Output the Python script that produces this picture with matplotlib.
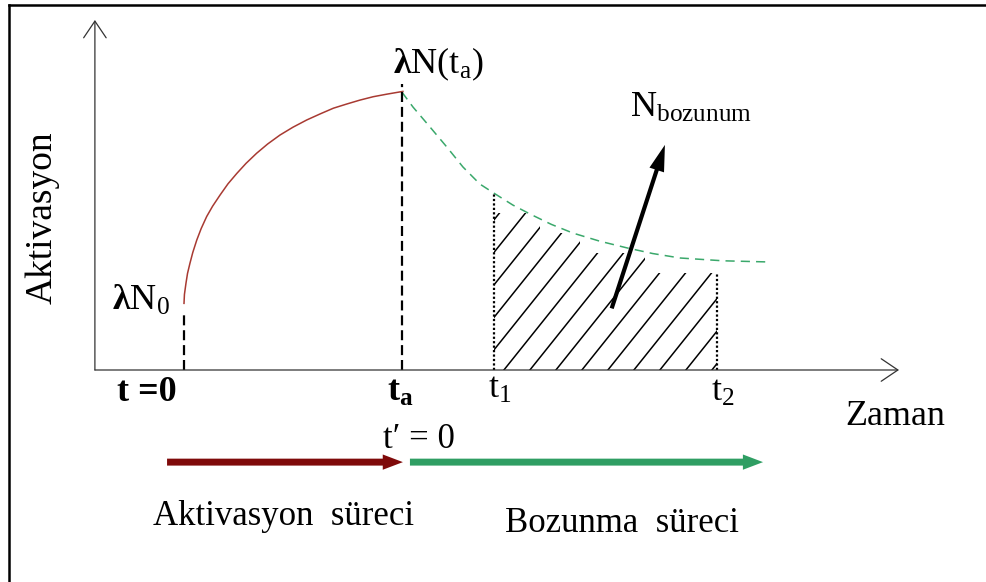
import numpy as np
import matplotlib
matplotlib.use('Agg')
import matplotlib.pyplot as plt
from matplotlib.patches import Polygon, FancyArrowPatch
from matplotlib.lines import Line2D

plt.rcParams['font.family'] = ['Liberation Serif', 'DejaVu Serif']
plt.rcParams['mathtext.fontset'] = 'custom'
plt.rcParams['mathtext.rm'] = 'Liberation Serif'
plt.rcParams['mathtext.it'] = 'Liberation Serif:italic'
plt.rcParams['mathtext.bf'] = 'Liberation Serif:bold'
plt.rcParams['mathtext.default'] = 'rm'

# ---- values (time units / activation units) ----
t_rise = [0.0, 0.02, 0.09, 0.16, 0.27, 0.40, 0.58, 0.78, 1.03, 1.30, 1.64, 2.00,
          2.40, 2.82, 3.30, 3.80, 4.36, 4.95, 5.58, 6.20, 6.79, 7.40, 8.00, 8.60,
          9.21, 9.95]
a_rise = [2.38, 2.70, 3.10, 3.45, 3.81, 4.20, 4.64, 5.05, 5.48, 5.85, 6.25, 6.65,
          7.02, 7.38, 7.74, 8.07, 8.39, 8.67, 8.93, 9.15, 9.35, 9.50, 9.64, 9.76,
          9.85, 9.95]

t_decay = [9.90, 10.41, 11.18, 11.95, 12.68, 13.45, 14.14, 14.95, 15.73, 16.70,
           17.68, 18.90, 20.14, 21.30, 22.55, 24.50, 26.50]
a_decay = [9.93, 9.39, 8.68, 7.96, 7.25, 6.64, 6.29, 5.89, 5.57, 5.20,
           4.89, 4.60, 4.36, 4.16, 4.00, 3.90, 3.86]

t_zero, t_a, t_1, t_2 = 0.0, 9.90, 14.09, 24.24
a_zero_mark, a_ta_mark, a_t1_mark, a_t2_mark = 2.08, 10.2, 6.29, 3.48

# hatched area N_bozunum (stepped top edge)
hatch_t = [t_1, t_1, 16.18, 16.18, 18.00, 18.00, 20.95, 20.95, t_2, t_2]
hatch_a = [0.0, 5.61, 5.61, 4.89, 4.89, 4.18, 4.18, 3.46, 3.46, 0.0]

# axes extents
axis_t_left, axis_t_right, axis_a_top = -4.05, 32.5, 12.5

# arrow pointing at the area
nboz_tail = (19.44, 2.20)
nboz_tip = (21.86, 8.04)

# process arrows under the axis
stage_a = -3.29
act_stage = (-0.77, 9.95)
dec_stage = (10.27, 26.32)

RED_CURVE = '#a83a32'
GREEN_CURVE = '#3aa86b'
RED_ARROW = '#7f0a0a'
GREEN_ARROW = '#2f9e63'

W, H = 987, 582
PX_T, PX_A = 22.0, 28.0
X0, Y0 = 184, 370

fig = plt.figure(figsize=(W / 100, H / 100), dpi=100)
ax = fig.add_axes([0, 0, 1, 1])
ax.set_xlim(-X0 / PX_T, (W - X0) / PX_T)
ax.set_ylim(-(H - Y0) / PX_A, Y0 / PX_A)
ax.axis('off')

# frame (cut off on right and bottom)
fig.add_artist(Line2D([9 / W, 1], [1 - 5 / H, 1 - 5 / H], color='black', lw=1.8,
                      transform=fig.transFigure, solid_capstyle='projecting'))
fig.add_artist(Line2D([9 / W, 9 / W], [0, 1 - 5 / H], color='black', lw=1.8,
                      transform=fig.transFigure, solid_capstyle='projecting'))

# axes with open arrow heads
ax.annotate('', xy=(axis_t_left, axis_a_top), xytext=(axis_t_left, 0),
            arrowprops=dict(arrowstyle='->, head_length=0.4, head_width=0.27',
                            mutation_scale=30, lw=0.9, color='#333333',
                            shrinkA=0, shrinkB=0))
ax.annotate('', xy=(axis_t_right, 0), xytext=(axis_t_left, 0),
            arrowprops=dict(arrowstyle='->, head_length=0.4, head_width=0.27',
                            mutation_scale=30, lw=0.9, color='#333333',
                            shrinkA=0, shrinkB=0))

# curves
ax.plot(t_rise, a_rise, color=RED_CURVE, lw=1.1, solid_joinstyle='round')
ax.plot(t_decay, a_decay, color=GREEN_CURVE, lw=1.1, dashes=(6, 4))

# vertical markers
ax.plot([t_zero, t_zero], [0, a_zero_mark], color='black', lw=1.6, dashes=(4.5, 2.2))
ax.plot([t_a, t_a], [0, a_ta_mark], color='black', lw=1.6, dashes=(4.5, 2.2))
ax.plot([t_1, t_1], [0, a_t1_mark], color='black', lw=1.6, dashes=(1, 1))
ax.plot([t_2, t_2], [0, a_t2_mark], color='black', lw=1.6, dashes=(1, 1))

# hatched region: diagonal lines clipped to the polygon
area = Polygon(np.column_stack([hatch_t, hatch_a]), closed=True,
               facecolor='none', edgecolor='none')
ax.add_patch(area)
slope = 1.25 * PX_T / PX_A
step = 26 / PX_T
for tb in 20.45 + step * np.arange(-12, 6):
    ln, = ax.plot([tb, tb + 8 / slope], [0, 8], color='black', lw=1.1)
    ln.set_clip_path(area)

# arrow for N_bozunum
ax.add_patch(FancyArrowPatch(nboz_tail, nboz_tip,
                             arrowstyle='simple, head_length=1.9, head_width=1.1, tail_width=0.3',
                             mutation_scale=10, color='black', lw=0,
                             shrinkA=0, shrinkB=0))

# process arrows
for (ts, te), col in [(act_stage, RED_ARROW), (dec_stage, GREEN_ARROW)]:
    ax.add_patch(FancyArrowPatch((ts, stage_a), (te, stage_a),
                                 arrowstyle='simple, head_length=1.45, head_width=1.1, tail_width=0.5',
                                 mutation_scale=10, color=col, lw=0,
                                 shrinkA=0, shrinkB=0))

# texts (pixel positions of the layout)
def ftext(x, y, s, **kw):
    kw.setdefault('ha', 'left')
    kw.setdefault('va', 'baseline')
    fig.text(x / W, 1 - y / H, s, **kw)

ftext(42, 218, 'Aktivasyon', size=27, rotation=90, ha='center', va='center')
ftext(845, 425, 'Zaman', size=26)
ftext(393, 73, r'$\mathbf{λ}\mathrm{N(t_a)}$', size=26)
ftext(112, 310, r'$\mathbf{λ}\mathrm{N_0}$', size=26)
ftext(117, 401, 't =0', size=26, weight='bold')
ftext(387, 401, r'$\mathbf{t_a}$', size=26)
ftext(488, 398, r'$\mathrm{t_1}$', size=26)
ftext(711, 401, r'$\mathrm{t_2}$', size=26)
ftext(630, 117, r'$\mathrm{N_{bozunum}}$', size=26)
ftext(383, 448, 't′ = 0', size=25)
ftext(153, 525, 'Aktivasyon  süreci', size=25)
ftext(505, 532, 'Bozunma  süreci', size=25)

fig.savefig('out.png', dpi=100)
